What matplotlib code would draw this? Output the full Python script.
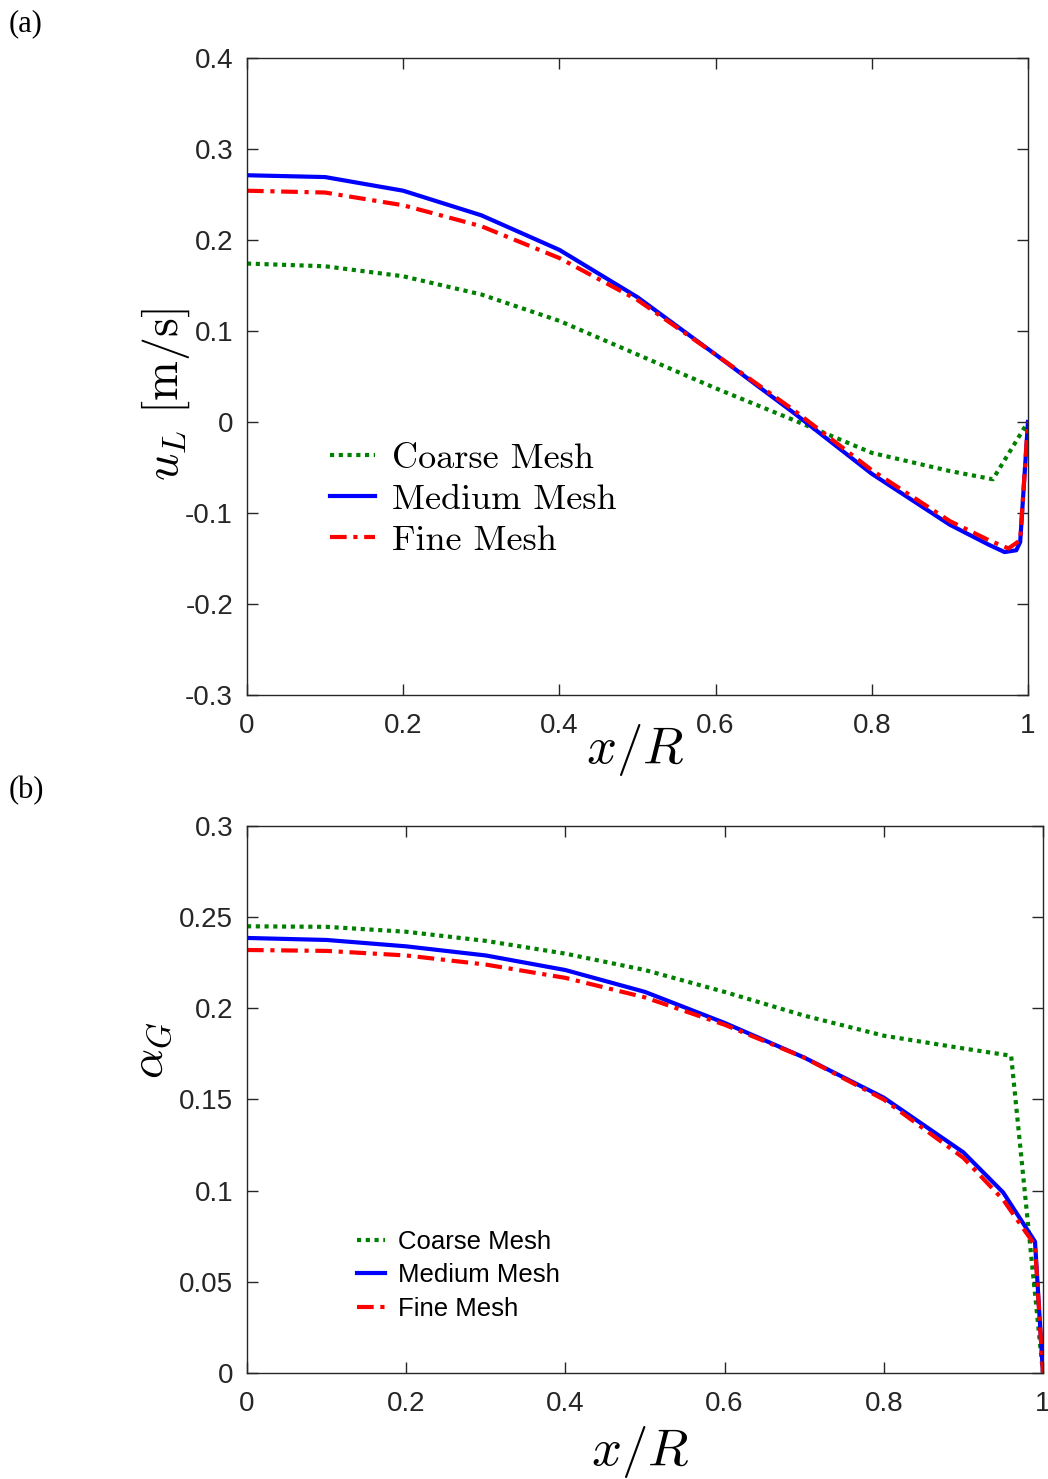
"""
Mesh independence: liquid velocity and gas holdup profiles.
"""
import matplotlib
matplotlib.use('Agg')
import matplotlib.pyplot as plt

plt.rcParams['font.family'] = ['Liberation Sans', 'DejaVu Sans']
plt.rcParams['mathtext.fontset'] = 'cm'

###############################################################################
# Data
# (a) axial liquid velocity u_L [m/s]
xa_coarse = [0.0, 0.1, 0.2, 0.3, 0.4, 0.5, 0.6, 0.7, 0.8, 0.9, 0.955, 1.0]
ua_coarse = [0.174, 0.171, 0.160, 0.140, 0.111, 0.074, 0.037, 0.002,
             -0.034, -0.054, -0.063, 0.0]
xa_medium = [0.0, 0.1, 0.2, 0.3, 0.4, 0.5, 0.6, 0.7, 0.8, 0.9, 0.95,
             0.97, 0.985, 0.99, 1.0]
ua_medium = [0.271, 0.269, 0.254, 0.227, 0.189, 0.137, 0.074, 0.010,
             -0.057, -0.113, -0.135, -0.143, -0.141, -0.132, 0.0]
xa_fine = [0.0, 0.1, 0.2, 0.3, 0.4, 0.5, 0.6, 0.7, 0.8, 0.9, 0.95,
           0.975, 0.99, 1.0]
ua_fine = [0.254, 0.252, 0.238, 0.215, 0.180, 0.134, 0.074, 0.013,
           -0.053, -0.109, -0.130, -0.139, -0.130, 0.0]

# (b) gas holdup alpha_G
xb_coarse = [0.0, 0.1, 0.2, 0.3, 0.4, 0.5, 0.6, 0.7, 0.8, 0.9, 0.96, 1.0]
ab_coarse = [0.245, 0.2447, 0.242, 0.237, 0.230, 0.221, 0.209, 0.196,
             0.185, 0.178, 0.174, 0.0]
xb_medium = [0.0, 0.1, 0.2, 0.3, 0.4, 0.5, 0.6, 0.7, 0.8, 0.9, 0.95,
             0.99, 1.0]
ab_medium = [0.2386, 0.2375, 0.234, 0.229, 0.221, 0.209, 0.192, 0.173,
             0.151, 0.121, 0.099, 0.072, 0.0]
xb_fine = [0.0, 0.1, 0.2, 0.3, 0.4, 0.5, 0.6, 0.7, 0.8, 0.9, 0.95,
           0.99, 1.0]
ab_fine = [0.232, 0.2315, 0.229, 0.224, 0.2167, 0.206, 0.191, 0.173,
           0.150, 0.118, 0.095, 0.070, 0.0]

labels = ['Coarse Mesh', 'Medium Mesh', 'Fine Mesh']
colors = ['#008000', '#0000ff', '#ff0000']
styles = [(0, (1.0, 1.1)), '-', (0, (4.0, 1.6, 1.0, 1.6))]

###############################################################################
# Plot
fig = plt.figure(figsize=(10.48, 14.79), dpi=100)
ax1 = fig.add_axes([0.2357, 0.5301, 0.7452, 0.4308])
ax2 = fig.add_axes([0.2357, 0.0717, 0.7595, 0.3698])

for xs, ys, lab, c, ls in zip([xa_coarse, xa_medium, xa_fine],
                              [ua_coarse, ua_medium, ua_fine],
                              labels, colors, styles):
    ax1.plot(xs, ys, color=c, linestyle=ls, lw=3, label=lab)

for xs, ys, lab, c, ls in zip([xb_coarse, xb_medium, xb_fine],
                              [ab_coarse, ab_medium, ab_fine],
                              labels, colors, styles):
    ax2.plot(xs, ys, color=c, linestyle=ls, lw=3, label=lab)

ax1.set_xlim(0, 1)
ax1.set_ylim(-0.3, 0.4)
ax1.set_xticks([0, 0.2, 0.4, 0.6, 0.8, 1])
ax1.set_xticklabels(['0', '0.2', '0.4', '0.6', '0.8', '1'])
ax1.set_yticks([-0.3, -0.2, -0.1, 0, 0.1, 0.2, 0.3, 0.4])
ax1.set_yticklabels(['-0.3', '-0.2', '-0.1', '0', '0.1', '0.2', '0.3', '0.4'])

ax2.set_xlim(0, 1)
ax2.set_ylim(0, 0.3)
ax2.set_xticks([0, 0.2, 0.4, 0.6, 0.8, 1])
ax2.set_xticklabels(['0', '0.2', '0.4', '0.6', '0.8', '1'])
ax2.set_yticks([0, 0.05, 0.1, 0.15, 0.2, 0.25, 0.3])
ax2.set_yticklabels(['0', '0.05', '0.1', '0.15', '0.2', '0.25', '0.3'])

for ax in (ax1, ax2):
    ax.tick_params(direction='in', top=True, right=True, length=8,
                   width=1, labelsize=20, colors='#262626', pad=10)
    ax.tick_params(axis='x', pad=13)
    for sp in ax.spines.values():
        sp.set_color('#262626')
        sp.set_linewidth(1)

ax1.set_xlabel(r'$x/R$', fontsize=38)
ax1.xaxis.set_label_coords(0.497, -0.043)
ax1.set_ylabel(r'$u_L\ [\mathrm{m/s}]$', fontsize=34.5)
ax1.yaxis.set_label_coords(-0.071, 0.471)
ax2.set_xlabel(r'$x/R$', fontsize=38)
ax2.xaxis.set_label_coords(0.494, -0.094)
ax2.set_ylabel(r'$\alpha_G$', fontsize=34)
ax2.yaxis.set_label_coords(-0.092, 0.589)

ax1.legend(loc='upper left', bbox_to_anchor=(0.106, 0.396), frameon=False,
           prop={'family': 'cmr10', 'size': 26}, handlelength=1.25,
           handletextpad=0.47, labelspacing=0.24, borderpad=0,
           borderaxespad=0)
ax2.legend(loc='upper left', bbox_to_anchor=(0.138, 0.262), frameon=False,
           prop={'size': 18.5}, handlelength=1.09,
           handletextpad=0.5, labelspacing=0.37, borderpad=0,
           borderaxespad=0)

fig.text(0.008, 0.979, '(a)', fontsize=22, family='Liberation Serif')
fig.text(0.008, 0.4605, '(b)', fontsize=22, family='Liberation Serif')

fig.savefig('out.png', dpi=100)
